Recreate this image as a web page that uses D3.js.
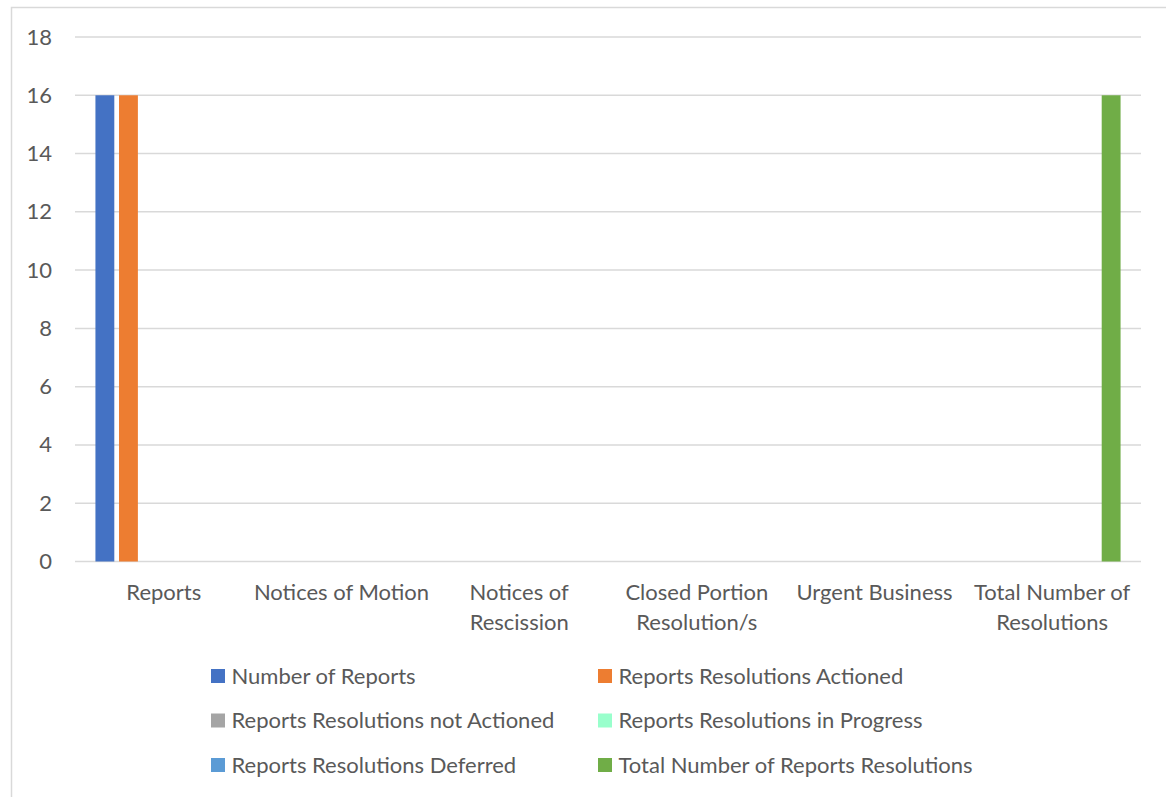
<!DOCTYPE html>
<html>
<head>
<meta charset="utf-8">
<script src="https://cdn.jsdelivr.net/npm/d3@7"></script>
<style>
  html, body { margin: 0; padding: 0; background: #fff; }
  svg { display: block; }
  text { font-family: Lato, "Open Sans", sans-serif; fill: #595959; }
</style>
</head>
<body>
<svg id="chart" width="1166" height="797"></svg>
<script>
// Meeting resolution counts by category
const categories = ["Reports", "Notices of Motion", "Notices of Rescission",
  "Closed Portion Resolution/s", "Urgent Business", "Total Number of Resolutions"];
const seriesNames = ["Number of Reports", "Reports Resolutions Actioned",
  "Reports Resolutions not Actioned", "Reports Resolutions in Progress",
  "Reports Resolutions Deferred", "Total Number of Reports Resolutions"];
const seriesColors = ["#4472c4", "#ed7d31", "#a5a5a5", "#99ffcc", "#5b9bd5", "#70ad47"];
// values[series][category]
const numberOfReports        = [16, 0, 0, 0, 0, 0];
const resolutionsActioned    = [16, 0, 0, 0, 0, 0];
const resolutionsNotActioned = [0, 0, 0, 0, 0, 0];
const resolutionsInProgress  = [0, 0, 0, 0, 0, 0];
const resolutionsDeferred    = [0, 0, 0, 0, 0, 0];
const totalResolutions       = [0, 0, 0, 0, 0, 16];
const yTicks = [0, 2, 4, 6, 8, 10, 12, 14, 16, 18];

const seriesValues = [numberOfReports, resolutionsActioned, resolutionsNotActioned,
  resolutionsInProgress, resolutionsDeferred, totalResolutions];

const svg = d3.select("#chart");
const fontSize = 22;

// chart frame
svg.append("rect")
  .attr("x", 11.5).attr("y", 7.5)
  .attr("width", 1170).attr("height", 800)
  .attr("fill", "#fff").attr("stroke", "#d9d9d9").attr("stroke-width", 1.5);

const plot = { left: 75, right: 1141, top: 37, bottom: 561.5 };

const y = d3.scaleLinear().domain([0, 18]).range([plot.bottom, plot.top]);
const x0 = d3.scaleBand().domain(d3.range(categories.length))
  .range([plot.left, plot.right]).paddingInner(0.23).paddingOuter(0.115);
const x1 = d3.scaleBand().domain(d3.range(seriesNames.length))
  .range([0, x0.bandwidth()]).paddingInner(0.2).paddingOuter(0);

// gridlines
svg.append("g")
  .selectAll("line").data(yTicks).join("line")
  .attr("x1", plot.left).attr("x2", plot.right)
  .attr("y1", d => y(d)).attr("y2", d => y(d))
  .attr("stroke", "#d9d9d9").attr("stroke-width", 1.5);

// y axis labels
const yAxis = d3.axisLeft(y).tickValues(yTicks).tickSize(0).tickPadding(0);
const yg = svg.append("g").attr("transform", `translate(52,0)`).call(yAxis);
yg.select(".domain").remove();
yg.selectAll("text").attr("font-size", fontSize).attr("font-family", null)
  .style("font-family", "Lato, 'Open Sans', sans-serif").attr("fill", "#595959");

// bars
const groups = svg.append("g").selectAll("g").data(categories).join("g")
  .attr("transform", (d, i) => `translate(${x0(i)},0)`);
groups.selectAll("rect")
  .data((d, ci) => seriesValues.map((vals, si) => ({ si, v: vals[ci] })))
  .join("rect")
  .attr("x", d => x1(d.si))
  .attr("width", x1.bandwidth())
  .attr("y", d => y(d.v))
  .attr("height", d => y(0) - y(d.v))
  .attr("fill", d => seriesColors[d.si]);

// category labels, wrapped to band width
const catG = svg.append("g");
const labelY = 600;
categories.forEach((c, i) => {
  const cx = x0(i) + x0.bandwidth() / 2;
  const t = catG.append("text").attr("x", cx).attr("y", labelY)
    .attr("text-anchor", "middle").attr("font-size", fontSize);
  const words = c.split(" ");
  let lines = [], line = [];
  const tmp = t.append("tspan");
  words.forEach(w => {
    const test = line.concat(w).join(" ");
    tmp.text(test);
    if (tmp.node().getComputedTextLength() > x0.step() && line.length) {
      lines.push(line.join(" "));
      line = [w];
    } else line.push(w);
  });
  lines.push(line.join(" "));
  tmp.remove();
  lines.forEach((l, li) => {
    t.append("tspan").attr("x", cx).attr("y", labelY + li * 30).text(l);
  });
});

// legend
const legCols = [211, 598];
const legRows = [676, 720.5, 765];
const leg = svg.append("g").selectAll("g").data(seriesNames).join("g")
  .attr("transform", (d, i) => `translate(${legCols[i % 2]},${legRows[Math.floor(i / 2)]})`);
leg.append("rect").attr("x", 0).attr("y", -7).attr("width", 14).attr("height", 14)
  .attr("fill", (d, i) => seriesColors[i]);
leg.append("text").attr("x", 20.5).attr("y", 7.5).attr("font-size", fontSize).text(d => d);
</script>
</body>
</html>
